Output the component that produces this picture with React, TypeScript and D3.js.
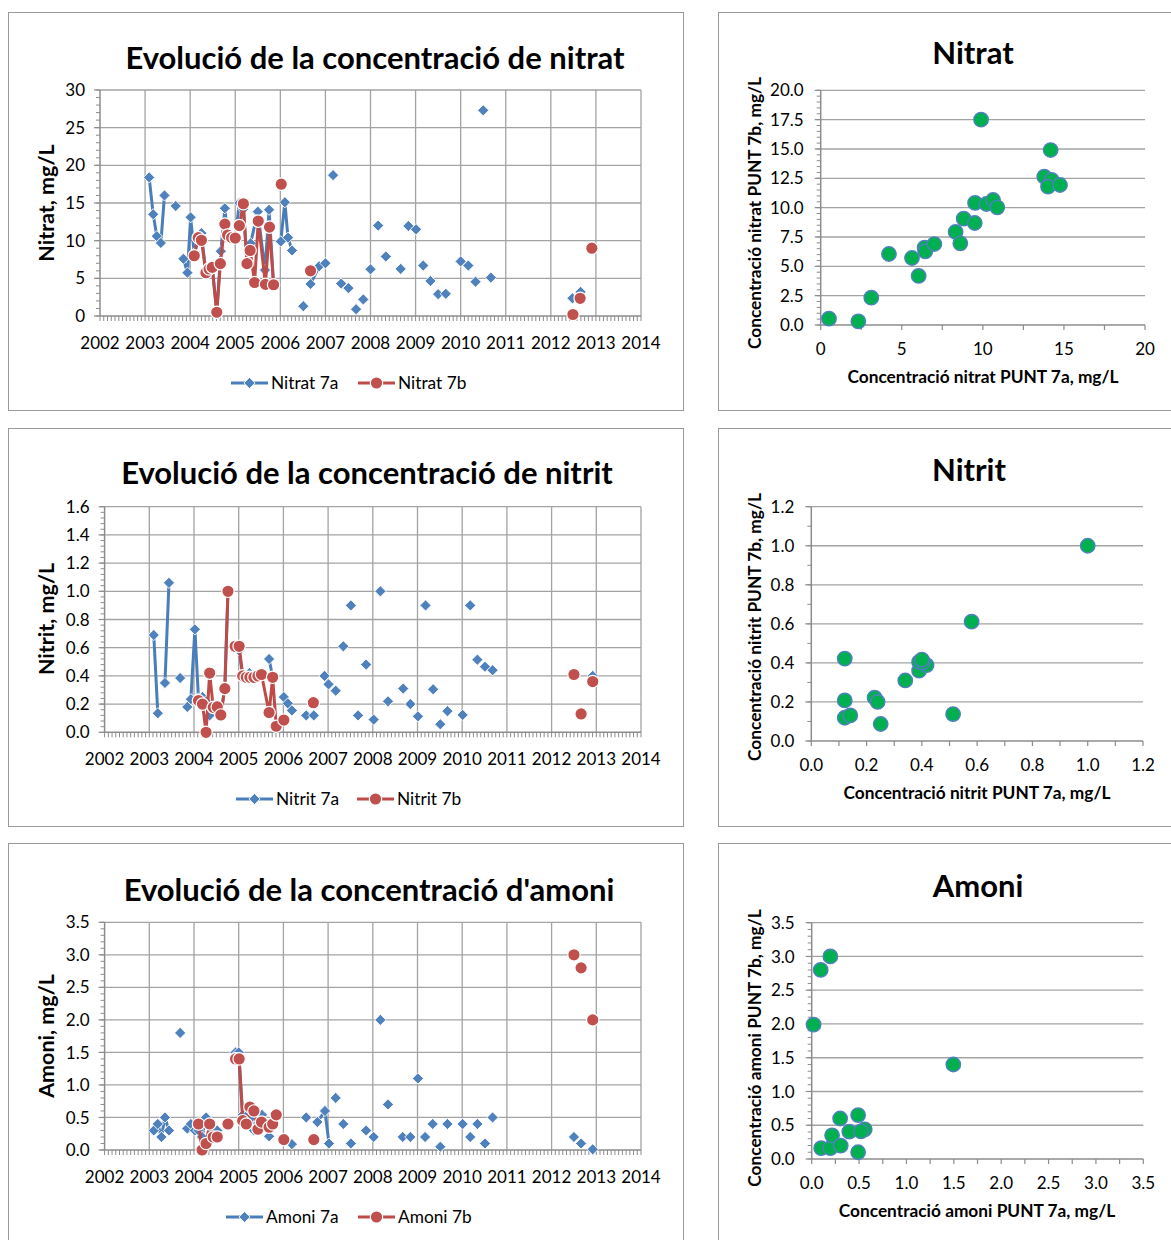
import React from "react";
import * as d3 from "d3";

type Pt = [number, number];

// ---------- data ----------
const years = d3.range(2002, 2015);

// Each inner array is one connected run of samples (decimal year, mg/L)
const nitrat7a: Pt[][] = [
  [[2003.09, 18.4], [2003.18, 13.5], [2003.26, 10.6], [2003.35, 9.7], [2003.43, 16.0]],
  [[2003.68, 14.6]],
  [[2003.85, 7.6], [2003.94, 5.75], [2004.01, 13.1], [2004.09, 8.3], [2004.18, 10.2], [2004.25, 11.0],
   [2004.35, 5.6], [2004.42, 6.4], [2004.49, 6.4], [2004.59, 0.5], [2004.68, 8.6], [2004.77, 14.3],
   [2004.83, 10.6], [2004.92, 10.3], [2005.0, 10.3], [2005.09, 15.0], [2005.18, 14.2], [2005.26, 7.0],
   [2005.34, 9.65], [2005.5, 13.85], [2005.66, 6.1], [2005.75, 14.1], [2005.85, 4.2]],
  [[2006.01, 9.9], [2006.1, 15.1], [2006.17, 10.4], [2006.26, 8.7]],
  [[2006.51, 1.3]],
  [[2006.67, 4.25], [2006.86, 6.6], [2007.0, 7.0]],
  [[2007.17, 18.7]], [[2007.35, 4.3]], [[2007.51, 3.7]], [[2007.68, 0.9]], [[2007.84, 2.2]],
  [[2008.0, 6.2]], [[2008.17, 12.0]], [[2008.34, 7.9]], [[2008.67, 6.25]], [[2008.84, 11.95]],
  [[2009.01, 11.5]], [[2009.17, 6.7]], [[2009.33, 4.65]], [[2009.5, 2.9]], [[2009.67, 2.95]],
  [[2010.0, 7.25]], [[2010.17, 6.7]], [[2010.33, 4.55]], [[2010.5, 27.3]], [[2010.67, 5.1]],
  [[2012.48, 2.35]], [[2012.66, 3.2]], [[2012.91, 8.8]],
];

const nitrat7b: Pt[][] = [
  [[2004.09, 8.0], [2004.18, 10.4], [2004.25, 10.05], [2004.35, 5.75], [2004.42, 6.25], [2004.49, 6.45],
   [2004.59, 0.5], [2004.67, 6.95], [2004.77, 12.2], [2004.83, 10.75], [2004.92, 10.4], [2005.0, 10.35],
   [2005.09, 12.0], [2005.18, 14.9], [2005.26, 6.95], [2005.33, 8.7], [2005.43, 4.45], [2005.51, 12.6],
   [2005.67, 4.2], [2005.76, 11.8], [2005.85, 4.15]],
  [[2006.02, 17.5]], [[2006.67, 6.0]],
  [[2012.49, 0.2]], [[2012.65, 2.35]], [[2012.91, 9.0]],
];

const nitrit7a: Pt[][] = [
  [[2003.1, 0.69], [2003.19, 0.135]],
  [[2003.35, 0.35], [2003.44, 1.06]],
  [[2003.69, 0.385]],
  [[2003.85, 0.18], [2003.93, 0.235], [2004.02, 0.73], [2004.1, 0.24], [2004.19, 0.25], [2004.27, 0.22],
   [2004.35, 0.12], [2004.43, 0.18], [2004.52, 0.18], [2004.6, 0.12], [2004.69, 0.33], [2004.76, 1.0]],
  [[2004.92, 0.61], [2005.01, 0.58], [2005.09, 0.4], [2005.17, 0.39], [2005.24, 0.42], [2005.34, 0.4],
   [2005.43, 0.41], [2005.51, 0.4]],
  [[2005.68, 0.52], [2005.76, 0.39]],
  [[2006.01, 0.25], [2006.1, 0.205], [2006.19, 0.155]],
  [[2006.51, 0.12]], [[2006.68, 0.12]],
  [[2006.92, 0.4], [2007.01, 0.34]],
  [[2007.17, 0.295]], [[2007.34, 0.61]], [[2007.51, 0.9]], [[2007.67, 0.12]], [[2007.85, 0.48]],
  [[2008.02, 0.09]], [[2008.17, 1.0]], [[2008.34, 0.22]], [[2008.68, 0.31]], [[2008.84, 0.2]],
  [[2009.01, 0.113]], [[2009.18, 0.9]], [[2009.35, 0.305]], [[2009.51, 0.057]], [[2009.67, 0.15]],
  [[2010.01, 0.123]], [[2010.18, 0.9]], [[2010.34, 0.515]], [[2010.51, 0.465]], [[2010.68, 0.44]],
  [[2012.5, 0.4]], [[2012.92, 0.4]],
];

const nitrit7b: Pt[][] = [
  [[2004.1, 0.225], [2004.19, 0.2], [2004.27, 0.0], [2004.35, 0.42], [2004.43, 0.177], [2004.52, 0.18],
   [2004.6, 0.123], [2004.69, 0.31], [2004.76, 1.0]],
  [[2004.92, 0.61], [2005.01, 0.61], [2005.09, 0.4], [2005.17, 0.39], [2005.25, 0.39], [2005.34, 0.39],
   [2005.43, 0.4], [2005.51, 0.41], [2005.68, 0.14], [2005.76, 0.39], [2005.84, 0.043], [2006.01, 0.087]],
  [[2006.67, 0.21]],
  [[2012.5, 0.41]], [[2012.66, 0.13]], [[2012.92, 0.36]],
];

const amoni7a: Pt[][] = [
  [[2003.1, 0.3], [2003.19, 0.4], [2003.27, 0.2], [2003.35, 0.5], [2003.44, 0.3]],
  [[2003.69, 1.8]],
  [[2003.85, 0.33], [2003.93, 0.4], [2004.02, 0.3]],
  [[2004.1, 0.3], [2004.18, 0.2], [2004.27, 0.5], [2004.35, 0.4], [2004.43, 0.3], [2004.52, 0.3]],
  [[2004.93, 1.5], [2005.0, 1.5], [2005.09, 0.54], [2005.17, 0.52], [2005.27, 0.49], [2005.34, 0.3],
   [2005.43, 0.4], [2005.52, 0.54]],
  [[2005.68, 0.21], [2005.76, 0.4], [2005.84, 0.56]],
  [[2006.19, 0.09]],
  [[2006.51, 0.5]],
  [[2006.76, 0.43], [2006.93, 0.6], [2007.02, 0.1]],
  [[2007.17, 0.8]], [[2007.34, 0.4]], [[2007.51, 0.1]], [[2007.85, 0.3]], [[2008.02, 0.2]],
  [[2008.17, 2.0]], [[2008.34, 0.7]], [[2008.67, 0.2]], [[2008.84, 0.2]], [[2009.01, 1.1]],
  [[2009.17, 0.2]], [[2009.34, 0.4]], [[2009.51, 0.05]], [[2009.67, 0.4]], [[2010.01, 0.4]],
  [[2010.18, 0.2]], [[2010.34, 0.4]], [[2010.51, 0.1]], [[2010.68, 0.5]],
  [[2012.5, 0.2]], [[2012.66, 0.1]], [[2012.92, 0.01]],
];

const amoni7b: Pt[][] = [
  [[2004.1, 0.4], [2004.18, 0.0], [2004.27, 0.1], [2004.35, 0.4], [2004.43, 0.2], [2004.52, 0.2]],
  [[2004.76, 0.4]],
  [[2004.93, 1.4], [2005.01, 1.4], [2005.09, 0.45], [2005.17, 0.4], [2005.25, 0.66], [2005.34, 0.6],
   [2005.43, 0.32], [2005.51, 0.43]],
  [[2005.68, 0.35], [2005.76, 0.4], [2005.84, 0.54]],
  [[2006.01, 0.16]], [[2006.68, 0.16]],
  [[2012.5, 3.0]], [[2012.66, 2.8]], [[2012.92, 2.0]],
];

// PUNT 7a vs PUNT 7b pairs
const nitratPairs: Pt[] = [
  [0.51, 0.54], [2.32, 0.31], [3.12, 2.33], [4.21, 6.05], [5.63, 5.71], [6.04, 4.18], [6.41, 6.59],
  [6.45, 6.28], [7.01, 6.9], [8.32, 7.93], [8.61, 6.96], [8.82, 9.06], [9.5, 8.69], [9.52, 10.4],
  [9.89, 17.5], [10.22, 10.31], [10.63, 10.65], [10.89, 10.03], [13.79, 12.64], [14.24, 12.36],
  [14.02, 11.79], [14.18, 14.91], [14.76, 11.93],
];
const nitritPairs: Pt[] = [
  [0.121, 0.422], [0.121, 0.208], [0.121, 0.119], [0.141, 0.131], [0.229, 0.222], [0.24, 0.2],
  [0.251, 0.087], [0.34, 0.31], [0.39, 0.36], [0.39, 0.405], [0.417, 0.389], [0.404, 0.403],
  [0.4, 0.417], [0.513, 0.138], [0.58, 0.611], [1.0, 1.0],
];
const amoniPairs: Pt[] = [
  [0.02, 1.99], [0.095, 2.8], [0.197, 3.0], [0.1, 0.16], [0.197, 0.16], [0.215, 0.35], [0.3, 0.6],
  [0.306, 0.197], [0.397, 0.405], [0.49, 0.65], [0.49, 0.1], [0.56, 0.44], [0.52, 0.41], [1.495, 1.4],
];

// ---------- styling ----------
const FONT = "Lato, 'Open Sans', sans-serif";
const BLUE = "#4F81BD";
const BLUE_LINE = "#4A7EBB";
const RED = "#C0504D";
const RED_LINE = "#BE4B48";
const GREEN = "#00B050";
const GRID = "#A3A3A3";
const AXIS = "#8C8C8C";
const FRAME = "#9A9A9A";
const TXT = "#000";
const TICK_FS = 17;
const TITLE_FS = 31;

const diamond = (r: number) => `M0,${-r}L${r},0L0,${r}L${-r},0Z`;

const stepValues = (max: number, step: number) =>
  d3.range(Math.round(max / step) + 1).map((i) => +(i * step).toFixed(6));

function Diamond({ x, y }: { x: number; y: number }) {
  return <path d={diamond(5.6)} transform={`translate(${x},${y})`} fill={BLUE} stroke="#fff" strokeWidth={0.9} />;
}
function Dot({ x, y }: { x: number; y: number }) {
  return <circle cx={x} cy={y} r={6.2} fill={RED} stroke="#fff" strokeWidth={1.2} />;
}

type Box = { x0: number; x1: number; y0: number; y1: number };

function TimePanel(props: {
  box: Box;
  yMax: number;
  yStep: number;
  yMinor: number;
  decimals: number;
  title: string;
  titleX: number;
  titleY: number;
  yLabel: string;
  yLabelY: number;
  a: Pt[][];
  b: Pt[][];
  nameA: string;
  nameB: string;
  legendY: number;
  legendA: number;
  legendB: number;
}) {
  const { box, yMax, yStep, yMinor, decimals } = props;
  const x = d3.scaleLinear().domain([2002, 2014]).range([box.x0, box.x1]);
  const y = d3.scaleLinear().domain([0, yMax]).range([box.y1, box.y0]);
  const line = d3.line<Pt>().x((d) => x(d[0])).y((d) => y(d[1]));
  const yTicks = stepValues(yMax, yStep);
  const yMinorTicks = stepValues(yMax, yMinor);
  const months = d3.range(12 * 12 + 1).map((i) => 2002 + i / 12);

  const drawSeries = (segs: Pt[][], color: string, kind: "d" | "c", key: string) => (
    <g key={key}>
      {segs.filter((s) => s.length > 1).map((s, i) => (
        <path key={i} d={line(s) || ""} fill="none" stroke={color} strokeWidth={3} strokeLinejoin="round" />
      ))}
      {segs.flat().map((p, i) =>
        kind === "d" ? <Diamond key={i} x={x(p[0])} y={y(p[1])} /> : <Dot key={i} x={x(p[0])} y={y(p[1])} />
      )}
    </g>
  );

  const legendItem = (lx: number, label: string, color: string, kind: "d" | "c") => (
    <g>
      <line x1={lx} x2={lx + 37} y1={props.legendY} y2={props.legendY} stroke={color} strokeWidth={3} />
      {kind === "d" ? <Diamond x={lx + 18.5} y={props.legendY} /> : <Dot x={lx + 18.5} y={props.legendY} />}
      <text x={lx + 40} y={props.legendY} dy="0.36em" fontSize={17.3} fontFamily={FONT} fill={TXT}>
        {label}
      </text>
    </g>
  );

  return (
    <g>
      <text x={props.titleX} y={props.titleY} textAnchor="middle" fontSize={TITLE_FS} fontWeight="bold" fontFamily={FONT} fill={TXT}>
        {props.title}
      </text>
      {/* gridlines */}
      {yTicks.slice(1).map((v) => (
        <line key={"h" + v} x1={box.x0} x2={box.x1} y1={y(v)} y2={y(v)} stroke={GRID} strokeWidth={1.3} />
      ))}
      {years.slice(1).map((yr) => (
        <line key={"v" + yr} x1={x(yr)} x2={x(yr)} y1={box.y0} y2={box.y1} stroke={GRID} strokeWidth={1.3} />
      ))}
      {/* axes */}
      <line x1={box.x0} x2={box.x0} y1={box.y0} y2={box.y1} stroke={AXIS} strokeWidth={1.5} />
      <line x1={box.x0} x2={box.x1} y1={box.y1} y2={box.y1} stroke={AXIS} strokeWidth={1.5} />
      {yMinorTicks.map((v) => (
        <line key={"ym" + v} x1={box.x0 - 4} x2={box.x0} y1={y(v)} y2={y(v)} stroke={AXIS} strokeWidth={1} />
      ))}
      {yTicks.map((v) => (
        <line key={"yt" + v} x1={box.x0 - 6} x2={box.x0} y1={y(v)} y2={y(v)} stroke={AXIS} strokeWidth={1.2} />
      ))}
      {months.map((m, i) => (
        <line key={"xm" + i} x1={x(m)} x2={x(m)} y1={box.y1} y2={box.y1 + 5} stroke={AXIS} strokeWidth={1} />
      ))}
      {yTicks.map((v) => (
        <text key={"yl" + v} x={box.x0 - 15} y={y(v)} dy="0.36em" textAnchor="end" fontSize={TICK_FS} fontFamily={FONT} fill={TXT}>
          {v.toFixed(decimals)}
        </text>
      ))}
      {years.map((yr) => (
        <text key={"xl" + yr} x={x(yr)} y={box.y1 + 33} textAnchor="middle" fontSize={TICK_FS} fontFamily={FONT} fill={TXT}>
          {yr}
        </text>
      ))}
      <text
        transform={`translate(46,${props.yLabelY}) rotate(-90)`}
        textAnchor="middle"
        dy="0.36em"
        fontSize={21.5}
        fontWeight="bold"
        fontFamily={FONT}
        fill={TXT}
      >
        {props.yLabel}
      </text>
      {drawSeries(props.a, BLUE_LINE, "d", "a")}
      {drawSeries(props.b, RED_LINE, "c", "b")}
      {legendItem(props.legendA, props.nameA, BLUE_LINE, "d")}
      {legendItem(props.legendB, props.nameB, RED_LINE, "c")}
    </g>
  );
}

function ScatterPanel(props: {
  box: Box;
  max: number;
  yStep: number;
  xStep: number;
  yMinor: number;
  xMinor: number;
  yDecimals: number;
  xDecimals: number;
  title: string;
  titleX: number;
  titleY: number;
  xLabel: string;
  xLabelX: number;
  xLabelY: number;
  yLabel: string;
  yLabelY: number;
  data: Pt[];
}) {
  const { box, max } = props;
  const x = d3.scaleLinear().domain([0, max]).range([box.x0, box.x1]);
  const y = d3.scaleLinear().domain([0, max]).range([box.y1, box.y0]);
  const yTicks = stepValues(max, props.yStep);
  const xTicks = stepValues(max, props.xStep);
  const yMinor = stepValues(max, props.yMinor);
  const xMinor = stepValues(max, props.xMinor);
  return (
    <g>
      <text x={props.titleX} y={props.titleY} textAnchor="middle" fontSize={TITLE_FS} fontWeight="bold" fontFamily={FONT} fill={TXT}>
        {props.title}
      </text>
      {yTicks.slice(1).map((v) => (
        <line key={"h" + v} x1={box.x0} x2={box.x1} y1={y(v)} y2={y(v)} stroke={GRID} strokeWidth={1.3} />
      ))}
      <line x1={box.x0} x2={box.x0} y1={box.y0} y2={box.y1} stroke={AXIS} strokeWidth={1.5} />
      <line x1={box.x0} x2={box.x1} y1={box.y1} y2={box.y1} stroke={AXIS} strokeWidth={1.5} />
      {yMinor.map((v) => (
        <line key={"ym" + v} x1={box.x0 - 4} x2={box.x0} y1={y(v)} y2={y(v)} stroke={AXIS} strokeWidth={1} />
      ))}
      {yTicks.map((v) => (
        <line key={"yt" + v} x1={box.x0 - 6} x2={box.x0} y1={y(v)} y2={y(v)} stroke={AXIS} strokeWidth={1.2} />
      ))}
      {xMinor.map((v) => (
        <line key={"xm" + v} x1={x(v)} x2={x(v)} y1={box.y1} y2={box.y1 + 5} stroke={AXIS} strokeWidth={1.2} />
      ))}
      {yTicks.map((v) => (
        <text key={"yl" + v} x={box.x0 - 17} y={y(v)} dy="0.36em" textAnchor="end" fontSize={TICK_FS} fontFamily={FONT} fill={TXT}>
          {v.toFixed(props.yDecimals)}
        </text>
      ))}
      {xTicks.map((v) => (
        <text key={"xl" + v} x={x(v)} y={box.y1 + 30} textAnchor="middle" fontSize={TICK_FS} fontFamily={FONT} fill={TXT}>
          {v.toFixed(props.xDecimals)}
        </text>
      ))}
      <text x={props.xLabelX} y={props.xLabelY} textAnchor="middle" fontSize={17.3} fontWeight="bold" fontFamily={FONT} fill={TXT}>
        {props.xLabel}
      </text>
      <text
        transform={`translate(755,${props.yLabelY}) rotate(-90)`}
        textAnchor="middle"
        dy="0.36em"
        fontSize={17.3}
        fontWeight="bold"
        fontFamily={FONT}
        fill={TXT}
      >
        {props.yLabel}
      </text>
      {props.data.map((p, i) => (
        <circle key={i} cx={x(p[0])} cy={y(p[1])} r={7.2} fill={GREEN} stroke={BLUE} strokeWidth={1.4} />
      ))}
    </g>
  );
}

export default function App() {
  const frames = [
    { x: 8.5, y: 12.5, w: 675, h: 398 },
    { x: 718.5, y: 12.5, w: 460, h: 398 },
    { x: 8.5, y: 428.5, w: 675, h: 398 },
    { x: 718.5, y: 428.5, w: 460, h: 398 },
    { x: 8.5, y: 843.5, w: 675, h: 420 },
    { x: 718.5, y: 843.5, w: 460, h: 420 },
  ];
  return (
    <svg
      width={1171}
      height={1240}
      style={{ position: "absolute", left: 0, top: 0, display: "block", background: "#fff" }}
    >
      <rect x={0} y={0} width={1171} height={1240} fill="#fff" />
      {frames.map((f, i) => (
        <rect key={i} x={f.x} y={f.y} width={f.w} height={f.h} fill="#fff" stroke={FRAME} strokeWidth={1} />
      ))}

      <TimePanel
        box={{ x0: 100, x1: 641, y0: 90, y1: 316 }}
        yMax={30} yStep={5} yMinor={1} decimals={0}
        title="Evolució de la concentració de nitrat" titleX={375} titleY={69}
        yLabel="Nitrat, mg/L" yLabelY={203}
        a={nitrat7a} b={nitrat7b} nameA="Nitrat 7a" nameB="Nitrat 7b"
        legendY={383} legendA={231} legendB={358}
      />
      <ScatterPanel
        box={{ x0: 820.7, x1: 1145, y0: 90.3, y1: 325 }}
        max={20} yStep={2.5} xStep={5} yMinor={0.5} xMinor={2.5} yDecimals={1} xDecimals={0}
        title="Nitrat" titleX={973} titleY={64}
        xLabel="Concentració nitrat PUNT 7a, mg/L" xLabelX={983} xLabelY={383}
        yLabel="Concentració nitrat PUNT 7b, mg/L" yLabelY={213}
        data={nitratPairs}
      />

      <TimePanel
        box={{ x0: 104.6, x1: 641, y0: 506.7, y1: 732.3 }}
        yMax={1.6} yStep={0.2} yMinor={0.04} decimals={1}
        title="Evolució de la concentració de nitrit" titleX={367} titleY={484}
        yLabel="Nitrit, mg/L" yLabelY={619}
        a={nitrit7a} b={nitrit7b} nameA="Nitrit 7a" nameB="Nitrit 7b"
        legendY={799} legendA={236} legendB={357}
      />
      <ScatterPanel
        box={{ x0: 811.3, x1: 1143, y0: 506.7, y1: 741 }}
        max={1.2} yStep={0.2} xStep={0.2} yMinor={0.1} xMinor={0.1} yDecimals={1} xDecimals={1}
        title="Nitrit" titleX={969} titleY={481}
        xLabel="Concentració nitrit PUNT 7a, mg/L" xLabelX={977} xLabelY={799}
        yLabel="Concentració nitrit PUNT 7b, mg/L" yLabelY={627}
        data={nitritPairs}
      />

      <TimePanel
        box={{ x0: 104.6, x1: 641, y0: 922.3, y1: 1150 }}
        yMax={3.5} yStep={0.5} yMinor={0.1} decimals={1}
        title="Evolució de la concentració d'amoni" titleX={369} titleY={901}
        yLabel="Amoni, mg/L" yLabelY={1036}
        a={amoni7a} b={amoni7b} nameA="Amoni 7a" nameB="Amoni 7b"
        legendY={1217} legendA={226} legendB={358}
      />
      <ScatterPanel
        box={{ x0: 811.7, x1: 1143.3, y0: 922.7, y1: 1159 }}
        max={3.5} yStep={0.5} xStep={0.5} yMinor={0.1} xMinor={0.25} yDecimals={1} xDecimals={1}
        title="Amoni" titleX={978} titleY={897}
        xLabel="Concentració amoni PUNT 7a, mg/L" xLabelX={977} xLabelY={1217}
        yLabel="Concentració amoni PUNT 7b, mg/L" yLabelY={1048}
        data={amoniPairs}
      />
    </svg>
  );
}
